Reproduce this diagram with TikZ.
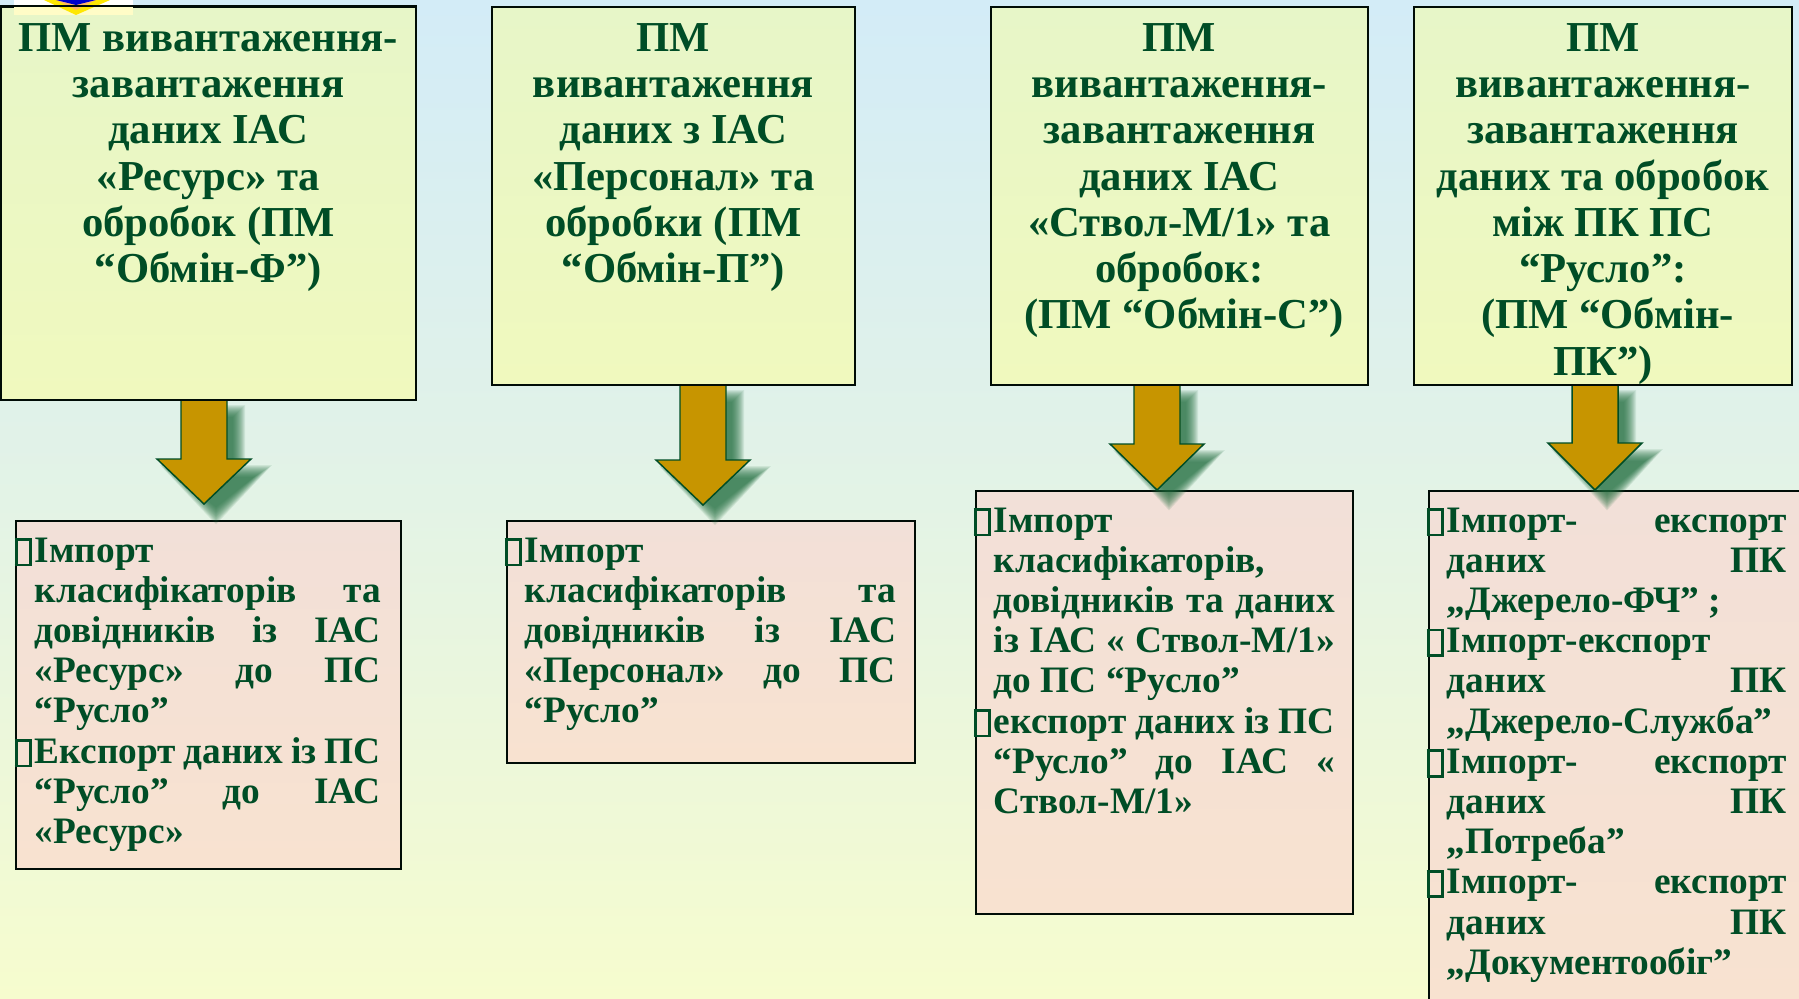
\documentclass[tikz,border=0pt]{standalone}
\usepackage{fontspec}
\setmainfont{Liberation Serif}
\usetikzlibrary{calc}
\definecolor{ink}{HTML}{004D26}
\definecolor{arrowfill}{HTML}{C79500}
\definecolor{shadowc}{HTML}{1F6B3C}
\definecolor{titletop}{HTML}{E7F6C8}
\definecolor{titlebot}{HTML}{F0F9BE}
\definecolor{conttop}{HTML}{F2E0D8}
\definecolor{contbot}{HTML}{F8E2D0}
\definecolor{bgtop}{HTML}{D3ECF7}
\definecolor{bgmid}{HTML}{E3F3E6}
\definecolor{bgbot}{HTML}{F6FCCE}
\newcommand\tbox[3]{\parbox[c][\dimexpr #2pt*3/4\relax][t]{\dimexpr #1pt*3/4\relax}{\vspace*{12.3pt}\centering\fontsize{32}{34.7}\selectfont\bfseries #3\par}}
\newcommand\cbox[4]{\parbox[c][\dimexpr #2pt*3/4\relax][t]{\dimexpr #1pt*3/4\relax}{\vspace*{12.6pt}\fontsize{28}{30.15}\selectfont\bfseries\leftskip=\dimexpr #3pt*3/4\relax\parindent=0pt #4\par}}
\newcommand\bul{\leavevmode\llap{\smash{\fboxsep=0pt\fboxrule=2.2pt\raisebox{-1pt}{\fbox{\rule{0pt}{17pt}\hspace{8.6pt}}}}\hspace{2.2pt}}}
\newcommand\just[2]{\makebox[\dimexpr #1pt*3/4\relax][s]{#2}}
\newcommand\arrowpath[2]{($(#1top)+(-23,0)$) -- ($(#1top)+(23,0)$) -- ($(#1top)+(23,#2)$) -- ($(#1top)+(47,#2)$) -- (#1tip) -- ($(#1top)+(-47,#2)$) -- ($(#1top)+(-23,#2)$) -- cycle}
\newcommand\shadowpath[3]{($(#1top)+(12-23+#3,12+#3)$) -- ($(#1top)+(12+23-#3,12+#3)$) -- ($(#1top)+(12+23-#3,12+#2+#3)$) -- ($(#1top)+(12+47-1.5*#3,12+#2+#3)$) -- ($(#1tip)+(12,12-1.41*#3)$) -- ($(#1top)+(12-47+1.5*#3,12+#2+#3)$) -- ($(#1top)+(12-23+#3,12+#2+#3)$) -- cycle}
\tikzset{
  x=0.75pt,y=-0.75pt,
  titlebox/.style={draw=black!85!ink,line width=1.4pt,inner sep=0pt,anchor=north west,top color=titletop,bottom color=titlebot,text=ink},
  contentbox/.style={draw=black!85!ink,line width=1.4pt,inner sep=0pt,anchor=north west,top color=conttop,bottom color=contbot,text=ink},
  arrowshape/.style={fill=arrowfill,draw=ink,line width=1.1pt,line join=miter}
}
\begin{document}
\begin{tikzpicture}
\useasboundingbox (0,0) rectangle (1799,999);
\shade[top color=bgtop,bottom color=bgbot,middle color=bgmid] (0,0) rectangle (1799,999);
% content boxes
\node[contentbox] (c1) at (15,520) {\cbox{385}{348}{19}{%
\bul Імпорт\\
\just{346}{класифікаторів та}\\
\just{346}{довідників із ІАС}\\
\just{346}{«Ресурс» до ПС}\\
“Русло”\\
\bul\just{346}{Експорт даних із ПС}\\
\just{346}{“Русло” до ІАС}\\
«Ресурс»}};
\node[contentbox] (c2) at (506,520) {\cbox{408}{242}{18}{%
\bul Імпорт\\
\just{371}{класифікаторів та}\\
\just{371}{довідників із ІАС}\\
\just{371}{«Персонал» до ПС}\\
“Русло”}};
\node[contentbox] (c3) at (975,490) {\cbox{377}{423}{18}{%
\bul Імпорт\\
класифікаторів,\\
\just{341}{довідників та даних}\\
\just{341}{із ІАС « Ствол-М/1»}\\
до ПС “Русло”\\
\bul\just{341}{експорт даних із ПС}\\
\just{341}{“Русло” до ІАС «}\\
Ствол-М/1»}};
\node[contentbox] (c4) at (1428,490) {\cbox{380}{520}{18}{%
\bul\just{340}{Імпорт- експорт}\\
\just{340}{даних ПК}\\
„Джерело-ФЧ” ;\\
\bul Імпорт-експорт\\
\just{340}{даних ПК}\\
„Джерело-Служба”\\
\bul\just{340}{Імпорт- експорт}\\
\just{340}{даних ПК}\\
„Потреба”\\
\bul\just{340}{Імпорт- експорт}\\
\just{340}{даних ПК}\\
„Документообіг”}};
\coordinate (a1top) at (204,399);\coordinate (a1tip) at (204,504);
\coordinate (a2top) at (703,384);\coordinate (a2tip) at (703,505);
\coordinate (a3top) at (1157,384);\coordinate (a3tip) at (1157,490);
\coordinate (a4top) at (1595,384);\coordinate (a4tip) at (1595,490);
\foreach \t/\h in {a1/60,a2/76,a3/60,a4/59}{
  \foreach \d in {-6,-5,-4,-3,-2,-1,0,1,2,3,4,5,6}{
    \fill[shadowc,opacity=0.1] \shadowpath{\t}{\h}{\d};
  }
  \draw[arrowshape] \arrowpath{\t}{\h};
}
% title boxes
\node[titlebox] (t1) at (0,6) {\tbox{415}{393}{ПМ вивантаження-\\завантаження\\даних ІАС\\«Ресурс» та\\обробок (ПМ\\“Обмін-Ф”)}};
\node[titlebox] (t2) at (491,6) {\tbox{363}{378}{ПМ\\вивантаження\\даних з ІАС\\«Персонал» та\\обробки (ПМ\\“Обмін-П”)}};
\node[titlebox] (t3) at (990,6) {\tbox{377}{378}{ПМ\\вивантаження-\\завантаження\\даних ІАС\\«Ствол-М/1» та\\обробок:\\\hspace*{6.9pt}(ПМ “Обмін-С”)}};
\node[titlebox] (t4) at (1413,6) {\tbox{378}{378}{ПМ\\вивантаження-\\завантаження\\даних та обробок\\між ПК ПС\\“Русло”:\\\hspace*{6.9pt}(ПМ “Обмін-\\ПК”)}};
% logo fragment
\fill[white] (14,0) rectangle (133,6);
\fill[yellow!22!white] (14,6) rectangle (133,15);
\fill[yellow!90!orange] (44,0) -- (110,0) -- (76,15) -- cycle;
\fill[orange!60!white] (56,0) -- (96,0) -- (76,10) -- cycle;
\fill[blue!80!black] (56,0) -- (96,0) -- (76,5) -- cycle;
\draw[black!85!ink,line width=1.4pt] (t1.north west) -- (t1.north east);
\end{tikzpicture}
\end{document}
